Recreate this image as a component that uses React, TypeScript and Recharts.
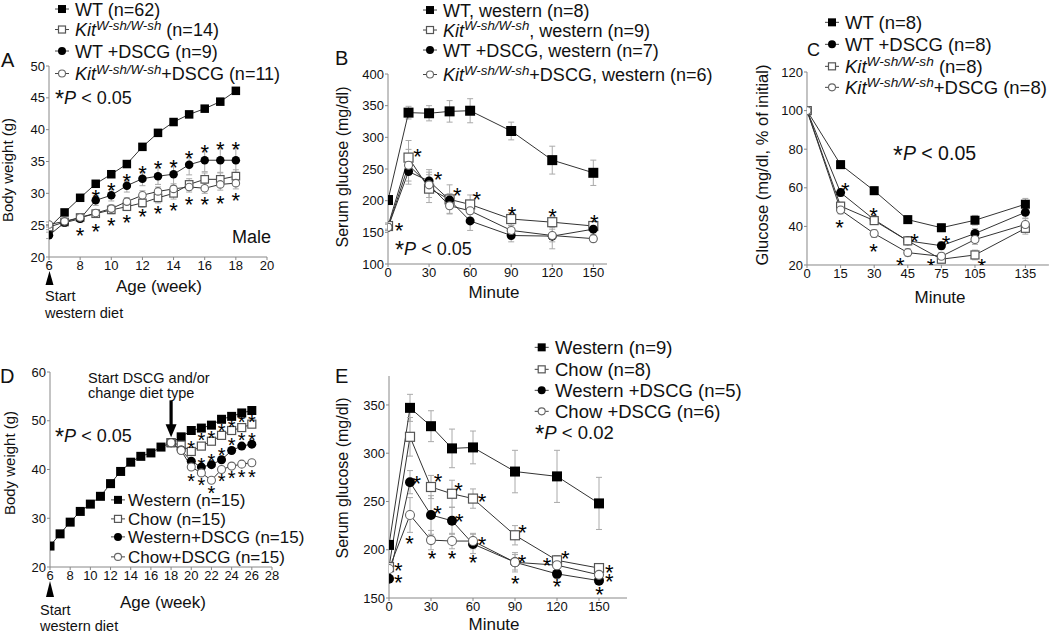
import React from 'react';
import { ComposedChart, Line, Scatter, XAxis, YAxis, ErrorBar, ReferenceDot } from 'recharts';

const FONT = '"Liberation Sans", Arial, Helvetica, sans-serif';

// ---------------- Panel A ----------------
const aWeeks = [6, 7, 8, 9, 10, 11, 12, 13, 14, 15, 16, 17, 18];
const aWT = [24.6, 27.0, 29.3, 31.5, 33.0, 34.6, 37.3, 39.5, 41.2, 42.4, 43.3, 44.4, 46.1];
const aWTErr = [0.3, 0.3, 0.3, 0.4, 0.4, 0.4, 0.4, 0.5, 0.5, 0.5, 0.5, 0.5, 0.5];
const aKit = [24.7, 25.5, 26.2, 26.8, 27.4, 27.9, 28.5, 29.3, 30.0, 31.4, 32.2, 32.2, 32.7];
const aKitErr = [0.4, 0.4, 0.5, 0.5, 0.6, 0.6, 0.7, 0.8, 0.9, 0.9, 1.0, 1.0, 1.0];
const aWTD = [23.4, 25.4, 26.0, 28.9, 29.7, 31.2, 32.3, 32.7, 33.0, 34.5, 35.2, 35.2, 35.2];
const aWTDErr = [0.5, 0.5, 0.6, 0.8, 0.9, 1.0, 1.1, 1.3, 1.8, 1.6, 1.8, 1.9, 1.9];
const aKitD = [25.1, 25.6, 26.2, 26.9, 27.6, 28.7, 29.7, 30.3, 30.7, 31.0, 30.8, 31.4, 31.6];
const aKitDErr = [0.4, 0.4, 0.5, 0.5, 0.6, 0.6, 0.7, 0.7, 0.8, 0.8, 0.8, 0.9, 0.9];
const aStars: [number, number][] = [
  [9, 30.1], [10, 31.3], [11, 32.7], [12, 33.9], [13, 34.7], [14, 34.9], [15, 36.3], [16, 37.3], [17, 37.7], [18, 37.7],
  [8, 24.2], [9, 24.9], [10, 25.8], [11, 26.2], [12, 27.2], [13, 27.6], [14, 28.1], [15, 29.0], [16, 29.0], [17, 29.3], [18, 29.7],
];
const aXTicks = [6, 8, 10, 12, 14, 16, 18, 20];
const aYTicks = [20, 25, 30, 35, 40, 45, 50];

// ---------------- Panel B ----------------
const bMin = [0, 15, 30, 45, 60, 90, 120, 150];
const bWT = [201, 339, 338, 341, 342, 310, 264, 244];
const bWTErr = [0, 10, 12, 17, 19, 14, 22, 20];
const bKit = [160, 268, 219, 202, 194, 171, 166, 160];
const bKitErr = [5, 27, 22, 23, 15, 10, 8, 5];
const bWTD = [158, 246, 231, 201, 168, 145, 144, 155];
const bWTDErr = [5, 20, 18, 10, 15, 10, 20, 8];
const bKitD = [158, 256, 225, 192, 184, 153, 145, 140];
const bKitDErr = [5, 25, 20, 12, 12, 8, 10, 5];
const bStars: [number, number][] = [
  [8, 161], [21.5, 278], [36.6, 242], [50.7, 216], [64.9, 210], [90.7, 187], [120.2, 183], [150.7, 174],
];
const bXTicks = [0, 30, 60, 90, 120, 150];
const bYTicks = [100, 150, 200, 250, 300, 350, 400];

// ---------------- Panel C ----------------
const cMinLabels = ['0', '15', '30', '45', '75', '105', '135'];
const cSlots = [0, 1, 2, 3, 4, 5, 6.5];
const cWT = [100, 72, 58.5, 43.5, 39.3, 43.2, 51.5];
const cWTD = [100, 57.5, 43.5, 32.5, 30, 36.3, 47.3];
const cKit = [100, 50.5, 43, 32.5, 23, 25.2, 39];
const cKitD = [100, 48.5, 36.3, 26.4, 24.5, 33.2, 41];
const cErr = [0, 2, 2, 2, 2, 2.5, 3];
const cStars: [number, number][] = [
  [1.14, 61.5], [0.97, 41.9], [1.98, 48.5], [1.98, 29.5], [3.2, 35], [2.78, 22.6], [4.14, 33.8], [3.69, 21.7], [5.2, 22.2],
];
const cYTicks = [20, 40, 60, 80, 100, 120];

// ---------------- Panel D ----------------
const dWeeks = [6, 7, 8, 9, 10, 11, 12, 13, 14, 15, 16, 17, 18, 19, 20, 21, 22, 23, 24, 25, 26];
const dWestern = [24.3, 26.8, 29.2, 31.4, 32.9, 34.5, 37.1, 39.6, 41.5, 42.7, 43.4, 44.6, 45.5, 46.7, 48.0, 48.5, 49.1, 50.3, 50.9, 51.6, 52.1];
const dLateWeeks = [18, 19, 20, 21, 22, 23, 24, 25, 26];
const dChow = [45.5, 45.0, 43.7, 44.8, 45.8, 47.0, 48.0, 48.6, 49.3];
const dWD = [45.5, 44.0, 41.7, 40.5, 41.0, 42.0, 43.9, 44.8, 45.2];
const dCD = [45.5, 43.9, 40.5, 39.3, 37.8, 40.0, 40.7, 41.1, 41.4];
const dStars: [number, number][] = [
  [20, 45.4], [21, 47.0], [22, 47.4], [23, 48.9], [24, 49.7], [25, 50.6], [26, 50.6],
  [21, 41.9], [22, 42.6], [23, 43.9], [24, 46.0], [25, 47.0], [26, 47.0],
  [20, 38.5], [21, 37.8], [22, 36.1], [23, 38.5], [24, 39.2], [25, 39.5], [26, 39.5],
];
const dArrowAt = { x: 18, y: 46.6 };
const dXTicks = [6, 8, 10, 12, 14, 16, 18, 20, 22, 24, 26, 28];
const dYTicks = [20, 30, 40, 50, 60];

// ---------------- Panel E ----------------
const eMin = [0, 15, 30, 45, 60, 90, 120, 150];
const eWestern = [205, 347, 328, 305, 306, 281, 276, 248];
const eWesternErr = [0, 14, 16, 20, 17, 22, 27, 27];
const eChow = [182, 317, 265, 258, 253, 215, 189, 181];
const eChowErr = [0, 20, 12, 14, 10, 10, 5, 3];
const eWD = [170, 270, 236, 230, 206, 187, 175, 168];
const eWDErr = [0, 12, 20, 14, 10, 10, 5, 3];
const eCD = [180, 236, 210, 209, 209, 187, 184, 174];
const eCDErr = [0, 18, 10, 8, 8, 8, 5, 3];
const eStars: [number, number][] = [
  [19.8, 274], [35, 276], [49.7, 267], [66.4, 255], [34.7, 243], [50.2, 235], [66.4, 211],
  [95.4, 223], [95, 192], [126, 196], [112.9, 189], [157.4, 182], [157.4, 173],
  [14.7, 212], [30.7, 196], [45, 196], [60, 192], [90.2, 170], [120, 167], [150.4, 159],
  [6.6, 184], [6.6, 172],
];
const eXTicks = [0, 30, 60, 90, 120, 150];
const eYTicks = [150, 200, 250, 300, 350];

type Kind = 'fs' | 'os' | 'fc' | 'oc';

const mk = (xs: number[], ys: number[], es?: number[]) =>
  xs.map((x, i) => ({ x, y: ys[i], e: es ? es[i] : 0 }));
const mkStars = (s: [number, number][]) => s.map(([x, y]) => ({ x, y }));

function Marker({ cx, cy, kind, size }: { cx: number; cy: number; kind: Kind; size: number }) {
  if (cx == null || cy == null || isNaN(cx) || isNaN(cy)) return null;
  const h = size / 2;
  if (kind === 'fs') return <rect x={cx - h} y={cy - h} width={size} height={size} fill="#000" />;
  if (kind === 'os')
    return <rect x={cx - h + 0.5} y={cy - h + 0.5} width={size - 1} height={size - 1} fill="#fff" stroke="#555" strokeWidth={1.2} />;
  if (kind === 'fc') return <circle cx={cx} cy={cy} r={h} fill="#000" />;
  return <circle cx={cx} cy={cy} r={h - 0.5} fill="#fff" stroke="#666" strokeWidth={1.1} />;
}

type Series = { data: { x: number; y: number; e: number }[]; kind: Kind; size: number; name: string };

type PanelProps = {
  x0: number; y0: number; x1: number; y1: number;
  xDomain: [number, number]; xTicks: number[]; xFmt?: (v: number) => string;
  yDomain: [number, number]; yTicks: number[];
  series: Series[]; stars: { x: number; y: number }[]; starSize: number;
  extra?: React.ReactNode;
};

const tickStyle = { fill: '#111', fontSize: 13, fontFamily: FONT };

function Panel(p: PanelProps) {
  const yw = 45, mt = 12, mr = 16, xh = 30;
  const W = p.x1 - p.x0 + yw + mr;
  const H = p.y1 - p.y0 + mt + xh;
  const fs = p.starSize;
  return (
    <div style={{ position: 'absolute', left: p.x0 - yw, top: p.y0 - mt }}>
      <ComposedChart width={W} height={H} margin={{ top: mt, right: mr, bottom: 0, left: 0 }}>
        <XAxis
          type="number" dataKey="x" domain={p.xDomain} ticks={p.xTicks} interval={0}
          tickFormatter={p.xFmt} allowDataOverflow height={xh}
          tickSize={3} tickMargin={1} stroke="#888" tick={tickStyle}
        />
        <YAxis
          type="number" dataKey="y" domain={p.yDomain} ticks={p.yTicks} interval={0}
          allowDataOverflow width={yw} tickSize={3} tickMargin={1} stroke="#888" tick={tickStyle}
        />
        {p.series.map((s) => (
          <Line
            key={s.name} name={s.name} data={s.data} dataKey="y" stroke="#333" strokeWidth={1}
            isAnimationActive={false} activeDot={false}
            dot={(dp: any) => <Marker key={dp.index} cx={dp.cx} cy={dp.cy} kind={s.kind} size={s.size} />}
          >
            <ErrorBar dataKey="e" width={3} stroke="#aaa" strokeWidth={1} direction="y" />
          </Line>
        ))}
        <Scatter
          name="stars" data={p.stars} dataKey="y" isAnimationActive={false}
          shape={(sp: any) => (
            <text x={sp.cx} y={sp.cy + fs * 0.58} textAnchor="middle" fontSize={fs} fontFamily={FONT} fill="#000">*</text>
          )}
        />
        {p.extra}
      </ComposedChart>
    </div>
  );
}

// ---------------- overlay helpers ----------------
function Txt({ x, y, s = 16, anchor = 'start', rot = false, italic = false, children }: any) {
  return (
    <text
      x={x} y={y} fontSize={s} textAnchor={anchor} fontFamily={FONT} fill="#111"
      fontStyle={italic ? 'italic' : 'normal'}
      transform={rot ? `rotate(-90 ${x} ${y})` : undefined}
    >
      {children}
    </text>
  );
}

function PText({ x, y, s = 18, val }: { x: number; y: number; s?: number; val: string }) {
  return (
    <text x={x} y={y} fontSize={s} fontFamily={FONT} fill="#111">
      <tspan fontSize={s * 1.3} dy={s * 0.18}>*</tspan>
      <tspan fontStyle="italic" dy={-s * 0.18}>P</tspan>
      <tspan>{` < ${val}`}</tspan>
    </text>
  );
}

type LegendItem = { kind: Kind; kit?: boolean; text: string };

function LegendBlock({ mx, tx, rows, items, s, msize }: { mx: number; tx: number; rows: number[]; items: LegendItem[]; s: number; msize: number }) {
  return (
    <g>
      {items.map((it, i) => {
        const by = rows[i];
        const cy = by - s * 0.36;
        const up = s * 0.36;
        return (
          <g key={i}>
            <line x1={mx - 7} x2={mx + 7} y1={cy} y2={cy} stroke="#444" strokeWidth={1} />
            <Marker cx={mx} cy={cy} kind={it.kind} size={msize} />
            <text x={tx} y={by} fontSize={s} fontFamily={FONT} fill="#111">
              {it.kit ? (
                <>
                  <tspan fontStyle="italic">Kit</tspan>
                  <tspan fontStyle="italic" fontSize={s * 0.74} dy={-up}>W-sh/W-sh</tspan>
                  <tspan dy={up}>{it.text}</tspan>
                </>
              ) : (
                it.text
              )}
            </text>
          </g>
        );
      })}
    </g>
  );
}

const legA: LegendItem[] = [
  { kind: 'fs', text: 'WT (n=62)' },
  { kind: 'os', kit: true, text: ' (n=14)' },
  { kind: 'fc', text: 'WT +DSCG (n=9)' },
  { kind: 'oc', kit: true, text: '+DSCG (n=11)' },
];
const legB: LegendItem[] = [
  { kind: 'fs', text: 'WT, western (n=8)' },
  { kind: 'os', kit: true, text: ', western (n=9)' },
  { kind: 'fc', text: 'WT +DSCG, western (n=7)' },
  { kind: 'oc', kit: true, text: '+DSCG, western (n=6)' },
];
const legC: LegendItem[] = [
  { kind: 'fs', text: 'WT (n=8)' },
  { kind: 'fc', text: 'WT +DSCG (n=8)' },
  { kind: 'os', kit: true, text: ' (n=8)' },
  { kind: 'oc', kit: true, text: '+DSCG (n=8)' },
];
const legD: LegendItem[] = [
  { kind: 'fs', text: 'Western (n=15)' },
  { kind: 'os', text: 'Chow (n=15)' },
  { kind: 'fc', text: 'Western+DSCG (n=15)' },
  { kind: 'oc', text: 'Chow+DSCG (n=15)' },
];
const legE: LegendItem[] = [
  { kind: 'fs', text: 'Western (n=9)' },
  { kind: 'os', text: 'Chow (n=8)' },
  { kind: 'fc', text: 'Western +DSCG (n=5)' },
  { kind: 'oc', text: 'Chow +DSCG (n=6)' },
];

export default function App() {
  const seriesA: Series[] = [
    { name: 'WT', data: mk(aWeeks, aWT, aWTErr), kind: 'fs', size: 8.5 },
    { name: 'Kit', data: mk(aWeeks, aKit, aKitErr), kind: 'os', size: 8.5 },
    { name: 'WT+DSCG', data: mk(aWeeks, aWTD, aWTDErr), kind: 'fc', size: 8.5 },
    { name: 'Kit+DSCG', data: mk(aWeeks, aKitD, aKitDErr), kind: 'oc', size: 8.5 },
  ];
  const seriesB: Series[] = [
    { name: 'WT', data: mk(bMin, bWT, bWTErr), kind: 'fs', size: 10 },
    { name: 'Kit', data: mk(bMin, bKit, bKitErr), kind: 'os', size: 10 },
    { name: 'WT+DSCG', data: mk(bMin, bWTD, bWTDErr), kind: 'fc', size: 9 },
    { name: 'Kit+DSCG', data: mk(bMin, bKitD, bKitDErr), kind: 'oc', size: 9 },
  ];
  const seriesC: Series[] = [
    { name: 'WT', data: mk(cSlots, cWT, cErr), kind: 'fs', size: 9 },
    { name: 'WT+DSCG', data: mk(cSlots, cWTD, cErr), kind: 'fc', size: 9 },
    { name: 'Kit', data: mk(cSlots, cKit, cErr), kind: 'os', size: 9 },
    { name: 'Kit+DSCG', data: mk(cSlots, cKitD, cErr), kind: 'oc', size: 9 },
  ];
  const seriesD: Series[] = [
    { name: 'Western', data: mk(dWeeks, dWestern), kind: 'fs', size: 9 },
    { name: 'Chow', data: mk(dLateWeeks, dChow), kind: 'os', size: 9 },
    { name: 'Western+DSCG', data: mk(dLateWeeks, dWD), kind: 'fc', size: 9 },
    { name: 'Chow+DSCG', data: mk(dLateWeeks, dCD), kind: 'oc', size: 9 },
  ];
  const seriesE: Series[] = [
    { name: 'Western', data: mk(eMin, eWestern, eWesternErr), kind: 'fs', size: 10 },
    { name: 'Chow', data: mk(eMin, eChow, eChowErr), kind: 'os', size: 10 },
    { name: 'Western+DSCG', data: mk(eMin, eWD, eWDErr), kind: 'fc', size: 10 },
    { name: 'Chow+DSCG', data: mk(eMin, eCD, eCDErr), kind: 'oc', size: 10 },
  ];

  const arrow = (
    <ReferenceDot
      x={dArrowAt.x} y={dArrowAt.y} r={0}
      shape={(sp: any) => (
        <g>
          <rect x={sp.cx - 1.6} y={sp.cy - 37} width={3.2} height={26} fill="#000" />
          <polygon points={`${sp.cx - 5.5},${sp.cy - 13} ${sp.cx + 5.5},${sp.cy - 13} ${sp.cx},${sp.cy}`} fill="#000" />
        </g>
      )}
    />
  );

  return (
    <div style={{ position: 'absolute', left: 0, top: 0, width: 1050, height: 634, overflow: 'hidden', background: '#fff', fontFamily: FONT }}>
      <Panel x0={49} y0={66} x1={267} y1={257} xDomain={[6, 20]} xTicks={aXTicks} yDomain={[20, 50]} yTicks={aYTicks}
        series={seriesA} stars={mkStars(aStars)} starSize={22} />
      <Panel x0={388} y0={74} x1={607} y1={264} xDomain={[0, 160]} xTicks={bXTicks} yDomain={[100, 400]} yTicks={bYTicks}
        series={seriesB} stars={mkStars(bStars)} starSize={22} />
      <Panel x0={806.7} y0={72} x1={1048.6} y1={265} xDomain={[0, 7.2]} xTicks={cSlots}
        xFmt={(v: number) => cMinLabels[cSlots.indexOf(v)] ?? ''} yDomain={[20, 120]} yTicks={cYTicks}
        series={seriesC} stars={mkStars(cStars)} starSize={22} />
      <Panel x0={50} y0={372} x1={272} y1={567} xDomain={[6, 28]} xTicks={dXTicks} yDomain={[20, 60]} yTicks={dYTicks}
        series={seriesD} stars={mkStars(dStars)} starSize={20} extra={arrow} />
      <Panel x0={388.7} y0={376} x1={626.7} y1={598} xDomain={[0, 170]} xTicks={eXTicks} yDomain={[150, 380]} yTicks={eYTicks}
        series={seriesE} stars={mkStars(eStars)} starSize={22} />

      <svg width={1050} height={634} style={{ position: 'absolute', left: 0, top: 0, pointerEvents: 'none' }}>
        {/* panel letters */}
        <Txt x={1} y={67} s={20}>A</Txt>
        <Txt x={335} y={65} s={20}>B</Txt>
        <Txt x={807} y={56} s={18}>C</Txt>
        <Txt x={0} y={383} s={20}>D</Txt>
        <Txt x={335} y={383} s={20}>E</Txt>

        {/* legends */}
        <LegendBlock mx={62} tx={75} rows={[15.5, 36, 57.5, 80]} items={legA} s={18} msize={8} />
        <LegendBlock mx={430} tx={443} rows={[16.5, 36.5, 56.5, 81]} items={legB} s={18} msize={8} />
        <LegendBlock mx={832} tx={845} rows={[29, 51, 73, 94]} items={legC} s={18.5} msize={8} />
        <LegendBlock mx={118} tx={128} rows={[506, 525, 543, 563]} items={legD} s={17} msize={8} />
        <LegendBlock mx={541.7} tx={555} rows={[354, 376, 397, 418]} items={legE} s={18.5} msize={8} />

        {/* p-values */}
        <PText x={55} y={104} val="0.05" />
        <PText x={395} y={255} val="0.05" />
        <PText x={893} y={160} s={19.5} val="0.05" />
        <PText x={55} y={442} val="0.05" />
        <PText x={535} y={439} s={18.5} val="0.02" />

        {/* axis titles */}
        <Txt x={13} y={170} s={15} anchor="middle" rot>Body weight (g)</Txt>
        <Txt x={159} y={292} s={17} anchor="middle">Age (week)</Txt>
        <Txt x={348} y={167} s={16} anchor="middle" rot>Serum glucose (mg/dl)</Txt>
        <Txt x={494} y={298} s={17} anchor="middle">Minute</Txt>
        <Txt x={768} y={165} s={16.5} anchor="middle" rot>Glucose (mg/dl, % of initial)</Txt>
        <Txt x={940} y={303} s={17} anchor="middle">Minute</Txt>
        <Txt x={15} y={463} s={15} anchor="middle" rot>Body weight (g)</Txt>
        <Txt x={163} y={608} s={17} anchor="middle">Age (week)</Txt>
        <Txt x={348} y={478} s={16} anchor="middle" rot>Serum glucose (mg/dl)</Txt>
        <Txt x={494} y={630} s={17} anchor="middle">Minute</Txt>

        {/* other annotations */}
        <Txt x={232} y={243} s={18}>Male</Txt>
        <polygon points="49.5,271 45.5,285 53.5,285" fill="#000" />
        <Txt x={45} y={301} s={14.5}>Start</Txt>
        <Txt x={45} y={318} s={14.5}>western diet</Txt>
        <polygon points="50,581 46,597 54,597" fill="#000" />
        <Txt x={40} y={615} s={14.5}>Start</Txt>
        <Txt x={40} y={631} s={14.5}>western diet</Txt>
        <Txt x={88} y={383} s={14.5}>Start DSCG and/or</Txt>
        <Txt x={88} y={398} s={14.5}>change diet type</Txt>
      </svg>
    </div>
  );
}
